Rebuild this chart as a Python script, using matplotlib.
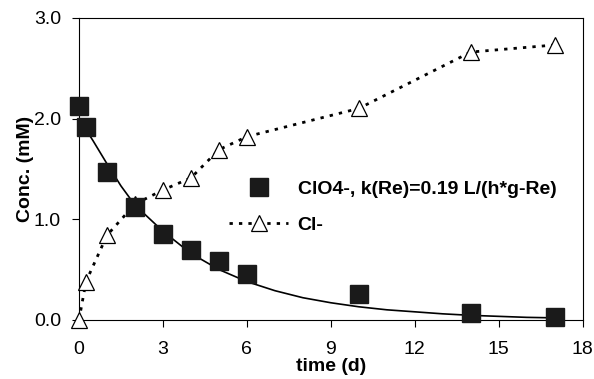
import matplotlib
matplotlib.use("Agg")
import matplotlib.pyplot as plt

plt.rcParams['font.family'] = ['Liberation Sans', 'DejaVu Sans']

# Measured ClO4- data
t_clo4 = [0, 0.25, 1, 2, 3, 4, 5, 6, 10, 14, 17]
c_clo4 = [2.12, 1.92, 1.47, 1.12, 0.85, 0.69, 0.58, 0.46, 0.26, 0.07, 0.03]

# Fitted ClO4- curve
t_fit = [0, 0.5, 1, 1.5, 2, 3, 4, 5, 6, 7, 8, 9, 10, 11, 12, 13, 14, 15, 16, 17]
c_fit = [2.0, 1.78, 1.55, 1.33, 1.14, 0.88, 0.66, 0.50, 0.38, 0.29, 0.22, 0.17,
         0.13, 0.10, 0.08, 0.06, 0.045, 0.035, 0.025, 0.02]

# Cl- data
t_cl = [0, 0.25, 1, 2, 3, 4, 5, 6, 10, 14, 17]
c_cl = [0.0, 0.38, 0.84, 1.15, 1.29, 1.41, 1.69, 1.82, 2.10, 2.66, 2.73]

x_ticks = [0, 3, 6, 9, 12, 15, 18]
y_ticks = [0.0, 1.0, 2.0, 3.0]

fig = plt.figure(figsize=(5.94, 3.79), dpi=100)
ax = fig.add_axes([0.133, 0.156, 0.848, 0.797])

ax.plot(t_fit, c_fit, color='black', lw=1.2, zorder=2)
ax.plot(t_cl, c_cl, color='black', lw=2, linestyle=(0, (1.2, 2.2)), marker='^',
        markersize=12, markerfacecolor='white', markeredgecolor='black',
        markeredgewidth=0.9, label='Cl-', zorder=3, clip_on=False)
ax.plot(t_clo4, c_clo4, linestyle='none', marker='s', markersize=13,
        color='#1a1a1a', label='ClO4-, k(Re)=0.19 L/(h*g-Re)', zorder=4,
        clip_on=False)

ax.set_xlim(0, 18)
ax.set_ylim(0, 3.0)
ax.set_xticks(x_ticks)
ax.set_yticks(y_ticks)
ax.set_yticklabels([f"{v:.1f}" for v in y_ticks])
ax.tick_params(direction='out', length=5, width=0.8, labelsize=14)
ax.tick_params(axis='x', pad=10)
ax.tick_params(axis='y', pad=8)
ax.set_xlabel('time (d)', fontsize=14, fontweight='bold', labelpad=0)
ax.set_ylabel('Conc. (mM)', fontsize=14, fontweight='bold', labelpad=0)
for s in ax.spines.values():
    s.set_linewidth(0.8)

handles, labels = ax.get_legend_handles_labels()
leg = ax.legend(handles[::-1], labels[::-1], loc='upper left',
                bbox_to_anchor=(0.264, 0.52), frameon=False,
                prop={'size': 14, 'weight': 'bold'}, handlelength=3,
                labelspacing=0.95, handletextpad=0.5)

fig.savefig('out.png', dpi=100)
